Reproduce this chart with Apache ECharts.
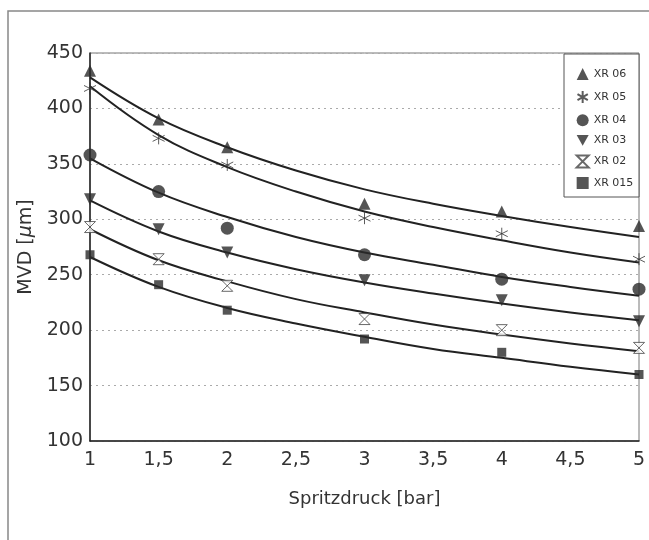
<!DOCTYPE html>
<html>
<head>
<meta charset="utf-8">
<script src="https://cdn.jsdelivr.net/npm/echarts@6/dist/echarts.min.js"></script>
<style>
  html, body { margin: 0; padding: 0; background: #fff; }
  #chart { width: 649px; height: 540px; }
</style>
</head>
<body>
<div id="chart"></div>
<script>
// Messpunkte (Spritzdruck in bar, MVD in µm)
var pressure = [1, 1.5, 2, 3, 4, 5]
var xr06 = [434, 390, 365, 314, 307, 294]
var xr05 = [418, 373, 349, 301, 287, 264]
var xr04 = [358, 325, 292, 268, 246, 237]
var xr03 = [318, 291, 270, 245, 227, 208]
var xr02 = [293, 264, 240, 210, 200, 184]
var xr015 = [268, 241, 218, 192, 180, 160]

var fitX = [1, 1.5, 2, 2.5, 3, 3.5, 4, 4.5, 5]
var fit06 = [428, 391, 365, 344, 327, 314, 303, 293, 284]
var fit05 = [420, 376, 347, 325, 307, 293, 281, 270, 261]
var fit04 = [355, 324, 302, 284, 270, 259, 248, 239, 231]
var fit03 = [317, 289, 270, 255, 243, 233, 224, 216, 209]
var fit02 = [291, 263, 244, 228, 216, 205, 196, 188, 181]
var fit015 = [266, 239, 220, 206, 194, 183, 175, 167, 160]

var names = ['XR 06', 'XR 05', 'XR 04', 'XR 03', 'XR 02', 'XR 015']

var font = 'DejaVu Sans'
var ink = '#2a2a2a'

function pairs(xs, ys) {
    return xs.map(function (x, i) { return [x, ys[i]] })
}

// Markerformen wie im Original
var asterisk = 'path://M5,0 L5,10 M0.7,2.5 L9.3,7.5 M0.7,7.5 L9.3,2.5'
var triDown = 'path://M0,0 L10,0 L5,9 Z'
var hourglass = 'path://M0,0 L10,0 L0,10 L10,10 Z'

var markers = [
    { data: xr06, symbol: 'triangle', size: 12, style: { color: ink } },
    { data: xr05, symbol: asterisk, size: 12, style: { color: 'none', borderColor: '#333', borderWidth: 1 } },
    { data: xr04, symbol: 'circle', size: 13, style: { color: ink } },
    { data: xr03, symbol: triDown, size: 12, style: { color: ink } },
    { data: xr02, symbol: hourglass, size: 11, style: { color: '#fff', borderColor: '#444', borderWidth: 1 } },
    { data: xr015, symbol: 'rect', size: 9, style: { color: ink } }
]
var fits = [fit06, fit05, fit04, fit03, fit02, fit015]

var series = []
fits.forEach(function (f, i) {
    series.push({
        name: names[i] + ' Trend',
        type: 'line',
        data: pairs(fitX, f),
        smooth: 0.4,
        showSymbol: false,
        silent: true,
        lineStyle: { color: '#222', width: 2 },
        z: 2
    })
})
markers.forEach(function (m, i) {
    series.push({
        name: names[i],
        type: 'scatter',
        data: pairs(pressure, m.data),
        symbol: m.symbol,
        symbolSize: m.size,
        itemStyle: m.style,
        z: 3
    })
})

var chart = echarts.init(document.getElementById('chart'))
var option = {
    backgroundColor: '#fff',
    animation: false,
    textStyle: { fontFamily: font, color: ink },
    grid: {
        left: 90, right: 10, top: 53, bottom: 99,
        show: true, borderColor: '#777', borderWidth: 1
    },
    xAxis: {
        type: 'value',
        min: 1, max: 5, interval: 0.5,
        name: 'Spritzdruck [bar]',
        nameLocation: 'middle',
        nameGap: 49,
        nameTextStyle: { fontFamily: font, fontSize: 18, color: '#333' },
        axisLine: { lineStyle: { color: '#222', width: 1.5 } },
        axisTick: { show: false },
        splitLine: { show: false },
        axisLabel: {
            margin: 10,
            fontFamily: font, fontSize: 19, color: '#333',
            formatter: function (v) { return String(v).replace('.', ',') }
        }
    },
    yAxis: {
        type: 'value',
        min: 100, max: 450, interval: 50,
        name: 'MVD [{i|μ}m]',
        nameLocation: 'middle',
        nameGap: 51,
        nameTextStyle: {
            fontFamily: font, fontSize: 19, color: '#333',
            rich: { i: { fontFamily: font, fontSize: 19, fontStyle: 'italic', color: '#333' } }
        },
        axisLine: { show: true, lineStyle: { color: '#222', width: 1.5 } },
        axisTick: { show: false },
        splitLine: { lineStyle: { color: '#aaa', type: [2, 4], width: 1 } },
        axisLabel: { margin: 7, fontFamily: font, fontSize: 19, color: '#333' }
    },
    legend: {
        data: names,
        orient: 'vertical',
        left: 564, top: 54,
        padding: [14, 8, 14, 11],
        itemWidth: 12, itemHeight: 12, itemGap: 8.6,
        textStyle: { fontFamily: font, fontSize: 11, color: '#333' },
        z: 10
    },
    graphic: [
        // äußerer Rahmen (rechts/unten abgeschnitten)
        { type: 'rect', silent: true, z: 0, shape: { x: 8, y: 11, width: 700, height: 600 },
          style: { fill: 'none', stroke: '#888', lineWidth: 1.5 } },
        // Legendenkasten
        { type: 'rect', silent: true, z: 5, shape: { x: 564, y: 54, width: 75, height: 143 },
          style: { fill: '#fff', stroke: '#555', lineWidth: 1 } }
    ],
    series: series
}
chart.setOption(option)
</script>
</body>
</html>
